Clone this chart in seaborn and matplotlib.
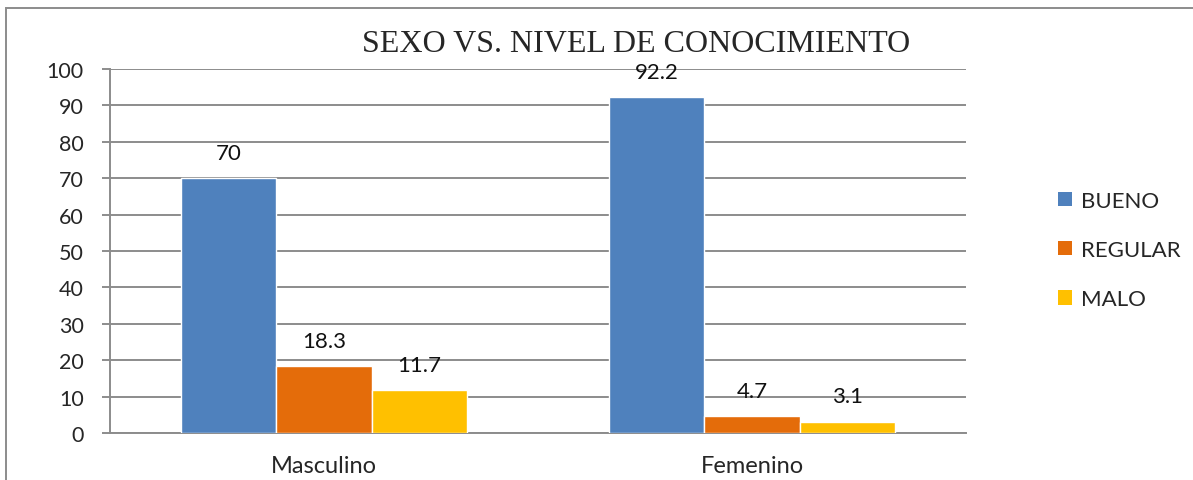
import matplotlib
matplotlib.use("Agg")
import matplotlib.pyplot as plt
import seaborn as sns
import pandas as pd
from matplotlib.patches import Rectangle, Patch

# ── data ─────────────────────────────────────────────
sexo = ["Masculino", "Femenino"]
niveles = ["BUENO", "REGULAR", "MALO"]
bueno = [70, 92.2]
regular = [18.3, 4.7]
malo = [11.7, 3.1]
colores = ["#4F81BD", "#E46C0A", "#FFC000"]

df = pd.DataFrame({
    "sexo": sexo * 3,
    "nivel": [n for n in niveles for _ in sexo],
    "valor": bueno + regular + malo,
})

# ── figure ───────────────────────────────────────────
sns.set_style("white")
plt.rcParams["font.family"] = ["Lato", "DejaVu Sans"]
GRID = "#8C8C8C"

fig = plt.figure(figsize=(11.93, 4.81), dpi=100)
ax = fig.add_axes([110 / 1193, 47 / 481, 856 / 1193, 364 / 481])

sns.barplot(data=df, x="sexo", y="valor", hue="nivel", order=sexo,
            hue_order=niveles, palette=colores, width=0.666,
            saturation=1, ax=ax, legend=False, zorder=3)

for cont in ax.containers:
    ax.bar_label(cont, fmt="%g", padding=11, fontsize=16, color="#111111")

ax.set_xlim(-0.5, 1.5)
ax.set_ylim(0, 100)
ax.set_yticks(range(0, 101, 10))
ax.set_xlabel("")
ax.set_ylabel("")
ax.yaxis.grid(True, color=GRID, lw=1.4, zorder=0)
ax.set_axisbelow(True)
for s in ["top", "right"]:
    ax.spines[s].set_visible(False)
for s in ["left", "bottom"]:
    ax.spines[s].set_color(GRID)
    ax.spines[s].set_linewidth(1.4)

ax.set_xticks([0, 1])
ax.set_xticklabels(sexo)
ax.set_xticks([-0.5, 0.5, 1.5], minor=True)
ax.tick_params(axis="x", which="major", length=0, pad=16, labelsize=17)
ax.tick_params(axis="x", which="minor", length=6, width=1.4, color=GRID,
               direction="out")
ax.tick_params(axis="y", length=6, width=1.4, color=GRID, pad=13,
               labelsize=15.5, left=True)

handles = [Patch(facecolor=c, edgecolor="none") for c in colores]
fig.legend(handles, niveles, loc="center left",
           bbox_to_anchor=(1038 / 1193, 1 - 251 / 481), frameon=False,
           fontsize=16, handlelength=0.63, handleheight=0.63,
           handletextpad=0.4, labelspacing=1.31)

fig.text(636 / 1193, 1 - 45 / 481, "SEXO VS. NIVEL DE CONOCIMIENTO",
         ha="center", va="center", fontsize=23,
         family=["Liberation Serif", "DejaVu Serif"])

# chart frame (runs past the right and bottom edges)
fig.patches.append(Rectangle((6 / 1193, -0.1), 1.2, 1 - 9 / 481 + 0.1,
                             transform=fig.transFigure, fill=False,
                             edgecolor=GRID, lw=1.4))

fig.savefig("out.png", dpi=100)
